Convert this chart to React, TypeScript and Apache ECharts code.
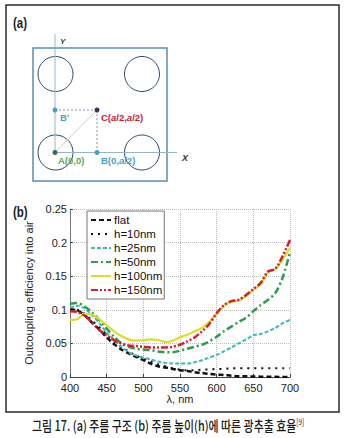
import React, { useEffect, useRef } from "react";
import * as echarts from "echarts";

const wavelengths = [400, 410, 420, 430, 440, 450, 460, 470, 480, 490, 500, 510, 520, 530, 540, 550, 560, 570, 580, 590, 600, 610, 620, 630, 640, 650, 660, 670, 680, 690, 700];

const flatVals = [0.101, 0.099, 0.092, 0.081, 0.071, 0.059, 0.049, 0.041, 0.035, 0.030, 0.025, 0.020, 0.016, 0.014, 0.012, 0.010, 0.009, 0.007, 0.006, 0.0045, 0.0035, 0.003, 0.002, 0.0012, 0.001, 0.0008, 0.0005, 0.0003, 0.0002, 0.0001, 0];
const h10Vals = [0.101, 0.100, 0.094, 0.084, 0.074, 0.063, 0.053, 0.045, 0.038, 0.032, 0.027, 0.023, 0.019, 0.016, 0.013, 0.011, 0.010, 0.010, 0.011, 0.011, 0.012, 0.012, 0.013, 0.013, 0.013, 0.013, 0.013, 0.013, 0.013, 0.013, 0.013];
const h25Vals = [0.103, 0.106, 0.102, 0.092, 0.080, 0.066, 0.055, 0.045, 0.037, 0.032, 0.029, 0.026, 0.023, 0.021, 0.020, 0.020, 0.020, 0.022, 0.025, 0.029, 0.033, 0.038, 0.044, 0.050, 0.056, 0.062, 0.064, 0.068, 0.073, 0.080, 0.085];
const h50Vals = [0.109, 0.110, 0.105, 0.096, 0.085, 0.072, 0.060, 0.050, 0.045, 0.042, 0.041, 0.040, 0.038, 0.037, 0.037, 0.039, 0.042, 0.045, 0.048, 0.053, 0.060, 0.068, 0.075, 0.082, 0.088, 0.098, 0.107, 0.115, 0.125, 0.148, 0.186];
const h100Vals = [0.085, 0.086, 0.094, 0.093, 0.086, 0.077, 0.068, 0.061, 0.056, 0.054, 0.055, 0.056, 0.055, 0.052, 0.054, 0.059, 0.063, 0.068, 0.073, 0.082, 0.094, 0.106, 0.112, 0.114, 0.120, 0.130, 0.138, 0.156, 0.160, 0.175, 0.192];
const h150Vals = [0.098, 0.097, 0.091, 0.081, 0.070, 0.062, 0.055, 0.050, 0.047, 0.046, 0.045, 0.044, 0.044, 0.044, 0.045, 0.048, 0.053, 0.059, 0.068, 0.079, 0.095, 0.107, 0.113, 0.115, 0.122, 0.131, 0.140, 0.157, 0.161, 0.180, 0.204];

const seriesNames = ["flat", "h=10nm", "h=25nm", "h=50nm", "h=100nm", "h=150nm"];
const xTicks = { min: 400, max: 700, interval: 50 };
const yTicks = { min: 0, max: 0.25, interval: 0.05 };

const FONT = "Liberation Sans, Arial, sans-serif";

export default function App() {
  const ref = useRef<HTMLDivElement>(null);
  useEffect(() => {
    if (!ref.current) return;
    const chart = echarts.init(ref.current, undefined, { renderer: "svg" });
    const pair = (vals: number[]) => wavelengths.map((w, i) => [w, vals[i]]);
    const styles = [
      { color: "#111111", width: 2.5, type: [5, 3] },
      { color: "#111111", width: 2, type: [2, 5] },
      { color: "#3cb8b8", width: 2, type: [4, 2] },
      { color: "#2f9a48", width: 2.5, type: [7, 3, 2, 3] },
      { color: "#dcdc2a", width: 2.2, type: "solid" },
      { color: "#d4202e", width: 2.5, type: [7, 2, 2, 2, 2, 2] },
    ];
    const valsList = [flatVals, h10Vals, h25Vals, h50Vals, h100Vals, h150Vals];
    const series = seriesNames.map((name, i) => ({
      name,
      type: "line",
      data: pair(valsList[i]),
      symbol: "none",
      showSymbol: false,
      smooth: 0.3,
      lineStyle: styles[i],
      itemStyle: { color: styles[i].color },
    }));
    const lbl = (text: string, x: number, y: number, color: string, size = 9.5) => ({
      type: "text",
      x,
      y,
      style: { text, fill: color, font: `bold ${size}px ${FONT}`, textVerticalAlign: "middle" },
    });
    const option: any = {
      animation: false,
      backgroundColor: "#fff",
      textStyle: { fontFamily: FONT },
      grid: { left: 70, top: 209, width: 220, height: 168, containLabel: false },
      xAxis: {
        type: "value",
        min: xTicks.min,
        max: xTicks.max,
        interval: xTicks.interval,
        name: "λ, nm",
        nameLocation: "middle",
        nameGap: 15,
        nameTextStyle: { fontSize: 11, color: "#222", fontFamily: FONT },
        axisLine: { show: true, lineStyle: { color: "#444", width: 1 } },
        axisTick: { show: true, inside: true, length: 3, lineStyle: { color: "#444" } },
        axisLabel: { fontSize: 11, color: "#222", margin: 5, fontFamily: FONT },
        splitLine: { show: true, lineStyle: { color: "#bdbdbd", type: "dotted", width: 1 } },
      },
      yAxis: {
        type: "value",
        min: yTicks.min,
        max: yTicks.max,
        interval: yTicks.interval,
        name: "Outcoupling efficiency into air",
        nameLocation: "middle",
        nameGap: 20,
        nameRotate: 90,
        nameTextStyle: { fontSize: 11, color: "#222", fontFamily: FONT },
        axisLine: { show: true, lineStyle: { color: "#777", width: 1 } },
        axisTick: { show: true, inside: true, length: 3, lineStyle: { color: "#444" } },
        axisLabel: { fontSize: 11, color: "#222", margin: 3, fontFamily: FONT },
        splitLine: { show: true, lineStyle: { color: "#bdbdbd", type: "dotted", width: 1 } },
      },
      legend: {
        orient: "vertical",
        left: 87,
        top: 211,
        itemWidth: 20,
        itemHeight: 12,
        itemGap: 2,
        padding: [3, 2, 3, 3],
        borderColor: "#777",
        borderWidth: 1,
        backgroundColor: "#fff",
        itemStyle: { opacity: 0, borderWidth: 0 },
        textStyle: { fontSize: 11.5, color: "#111", fontFamily: FONT, padding: [0, 0, 0, -2] },
        data: seriesNames,
      },
      series,
      graphic: {
        elements: [
          { type: "rect", shape: { x: 6, y: 5, width: 333, height: 407 }, style: { fill: "none", stroke: "#2b2b2b", lineWidth: 1.5 } },
          { type: "text", x: 13, y: 23, scaleX: 0.82, style: { text: "(a)", fill: "#222", font: `bold 14px ${FONT}`, textVerticalAlign: "middle" } },
          { type: "text", x: 13, y: 212, scaleX: 0.82, style: { text: "(b)", fill: "#222", font: `bold 14px ${FONT}`, textVerticalAlign: "middle" } },
          // diagram (a)
          { type: "rect", shape: { x: 33, y: 48, width: 134, height: 133 }, style: { fill: "none", stroke: "#5a8fb5", lineWidth: 1.5 } },
          { type: "circle", shape: { cx: 55.5, cy: 74, r: 17.5 }, style: { fill: "none", stroke: "#2d4a68", lineWidth: 1 } },
          { type: "circle", shape: { cx: 142, cy: 74, r: 17.5 }, style: { fill: "none", stroke: "#2d4a68", lineWidth: 1 } },
          { type: "circle", shape: { cx: 55.5, cy: 152.5, r: 17.5 }, style: { fill: "none", stroke: "#2d4a68", lineWidth: 1 } },
          { type: "circle", shape: { cx: 142, cy: 152.5, r: 17.5 }, style: { fill: "none", stroke: "#2d4a68", lineWidth: 1 } },
          { type: "line", shape: { x1: 55, y1: 34, x2: 55, y2: 153 }, style: { stroke: "#9ab4c8", lineWidth: 1 } },
          { type: "line", shape: { x1: 55, y1: 152.5, x2: 177, y2: 152.5 }, style: { stroke: "#9ab4c8", lineWidth: 1 } },
          { type: "line", shape: { x1: 55, y1: 110, x2: 97, y2: 110 }, style: { stroke: "#7a9ab8", lineWidth: 1, lineDash: [2, 2] } },
          { type: "line", shape: { x1: 97, y1: 110, x2: 97, y2: 153 }, style: { stroke: "#7a9ab8", lineWidth: 1, lineDash: [2, 2] } },
          { type: "line", shape: { x1: 55, y1: 152.5, x2: 97, y2: 110 }, style: { stroke: "#cfcfcf", lineWidth: 1 } },
          { type: "circle", shape: { cx: 55, cy: 152.5, r: 2.5 }, style: { fill: "#3a6a58" } },
          { type: "circle", shape: { cx: 97, cy: 152.5, r: 2.5 }, style: { fill: "#4b9cc8" } },
          { type: "circle", shape: { cx: 55, cy: 110, r: 2.5 }, style: { fill: "#4b9cc8" } },
          { type: "circle", shape: { cx: 97, cy: 110, r: 2.5 }, style: { fill: "#4a3050" } },
          lbl("B'", 60, 117, "#3f9fcf"),
          {
            type: "text",
            x: 101,
            y: 117,
            style: {
              text: "C({i|a}/2,{i|a}/2)",
              fill: "#c8203c",
              font: `bold 9.5px ${FONT}`,
              textVerticalAlign: "middle",
              rich: { i: { fontStyle: "italic", fontWeight: "bold", fontSize: 9.5, fill: "#c8203c", fontFamily: FONT } },
            },
          },
          lbl("A(0,0)", 58, 160, "#5aaa4a"),
          {
            type: "text",
            x: 101,
            y: 160,
            style: {
              text: "B(0,{i|a}/2)",
              fill: "#3f9fcf",
              font: `bold 9.5px ${FONT}`,
              textVerticalAlign: "middle",
              rich: { i: { fontStyle: "italic", fontWeight: "bold", fontSize: 9.5, fill: "#3f9fcf", fontFamily: FONT } },
            },
          },
          { type: "text", x: 60, y: 41, style: { text: "Y", fill: "#333", font: `italic bold 8px ${FONT}`, textVerticalAlign: "middle" } },
          { type: "text", x: 182, y: 158, style: { text: "X", fill: "#333", font: `italic bold 9px ${FONT}`, textVerticalAlign: "middle" } },
          // caption
          {
            type: "text",
            x: 168,
            y: 425,
            scaleX: 0.78,
            style: {
              text: "그림 17. (a) 주름 구조 (b) 주름 높이(h)에 따른 광추출 효율{s|[9]}",
              fill: "#1a1a1a",
              font: `500 14px "Noto Sans CJK KR", sans-serif`,
              textAlign: "center",
              textVerticalAlign: "middle",
              rich: { s: { fontSize: 8, fill: "#1a1a1a", verticalAlign: "top", fontFamily: "Noto Sans CJK KR" } },
            },
          },
        ],
      },
    };
    chart.setOption(option);
    return () => chart.dispose();
  }, []);
  return <div ref={ref} style={{ position: "fixed", left: 0, top: 0, width: 345, height: 438, background: "#fff" }} />;
}
